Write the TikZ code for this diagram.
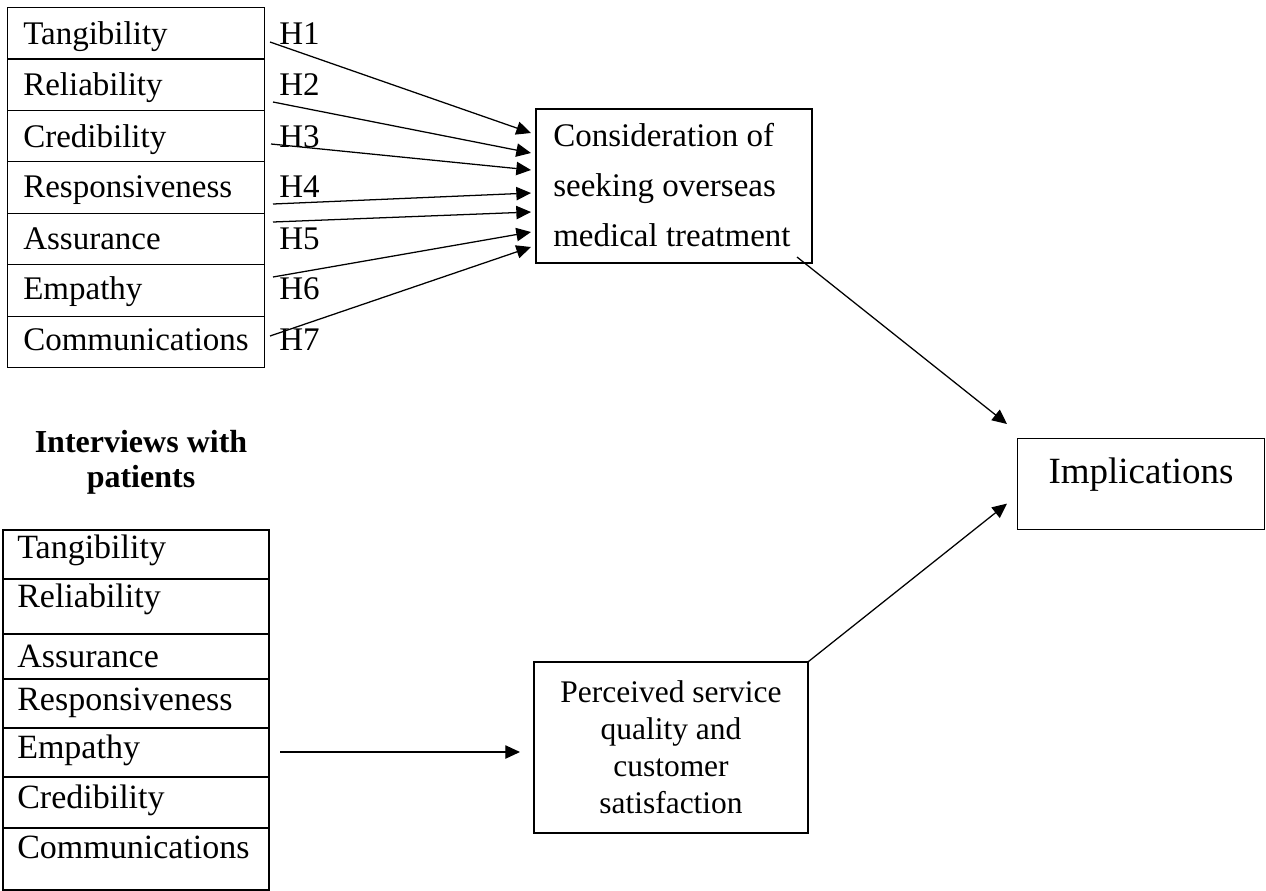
\documentclass[tikz,border=0pt]{standalone}
\usepackage{fontspec}
\setmainfont{Liberation Serif}
\usetikzlibrary{arrows.meta}
\begin{document}
\begin{tikzpicture}[x=0.75pt,y=-0.75pt,
  cellT/.style={draw, line width=0.9pt, inner sep=0pt, minimum width=192.75pt, minimum height=38.57pt, anchor=north west},
  cellB/.style={draw, line width=1.4pt, inner sep=0pt, minimum width=199.5pt, anchor=north west},
  txtT/.style={anchor=base west, inner sep=0pt, font=\fontsize{24.75}{30}\selectfont},
  txtB/.style={anchor=base west, inner sep=0pt, font=\fontsize{25.5}{30}\selectfont},
  hlab/.style={anchor=base west, inner sep=0pt, font=\fontsize{24.75}{30}\selectfont},
  arr/.style={line width=0.95pt, -{Triangle[length=11pt,width=10pt]}},
  boxstyle/.style={draw, line width=0.9pt, inner sep=0pt}
]
\useasboundingbox (0,0) rectangle (1266,890);

% top table
\foreach \i/\t/\b/\h in {1/Tangibility/44/H1, 2/Reliability/95/H2, 3/Credibility/147/H3, 4/Responsiveness/197/H4, 5/Assurance/249/H5, 6/Empathy/299/H6, 7/Communications/350/H7}{
  \node[cellT] (t\i) at (7,{7+(\i-1)*51.43}) {};
  \node[txtT] (tt\i) at (23,\b) {\t};
  \node[hlab] (h\i) at (279,\b) {\h};
}

% consideration box
\node[boxstyle, minimum width=207pt, minimum height=115.5pt] (cons) at (674,186) {};
\node[anchor=base west, inner sep=0pt, align=left,
      font=\fontsize{24.75}{37.5}\selectfont] (constxt) at (553,246)
  {Consideration of\\seeking overseas\\medical treatment};

% arrows to consideration
\coordinate (s1) at (270,42);  \coordinate (e1) at (531,133);
\coordinate (s2) at (273,102); \coordinate (e2) at (531,153);
\coordinate (s3) at (271,144); \coordinate (e3) at (531,170);
\coordinate (s4) at (273,204); \coordinate (e4) at (531,193);
\coordinate (s5) at (273,222); \coordinate (e5) at (531,212);
\coordinate (s6) at (273,277); \coordinate (e6) at (531,232);
\coordinate (s7) at (270,336); \coordinate (e7) at (531,247);
\foreach \i in {1,...,7}{ \draw[arr] (s\i) -- (e\i); }

% implications
\node[boxstyle, minimum width=185.25pt, minimum height=68.25pt, anchor=north west] (impl) at (1017,438) {};
\node[anchor=base, inner sep=0pt, font=\fontsize{27.75}{32}\selectfont] (impltxt) at (1141,483) {Implications};

\coordinate (c1) at (797,257);
\draw[arr] (c1) -- ([shift={(-10,-14)}]impl.north west);

% interviews heading
\node[align=center, inner sep=0pt, anchor=base, font=\bfseries\fontsize{24}{26.25}\selectfont] (intv) at (141,487) {Interviews with\\patients};

% bottom table
\node[cellB, minimum height=36.75pt] (b1) at (2,529) {};
\node[cellB, minimum height=41.25pt] (b2) at (2,578) {};
\node[cellB, minimum height=33.75pt] (b3) at (2,633) {};
\node[cellB, minimum height=36.75pt] (b4) at (2,678) {};
\node[cellB, minimum height=36.75pt] (b5) at (2,727) {};
\node[cellB, minimum height=38.25pt] (b6) at (2,776) {};
\node[cellB, minimum height=46.5pt] (b7) at (2,827) {};
\node[txtB] (bt1) at (17,558) {Tangibility};
\node[txtB] (bt2) at (17,607) {Reliability};
\node[txtB] (bt3) at (17,667) {Assurance};
\node[txtB] (bt4) at (17,710) {Responsiveness};
\node[txtB] (bt5) at (17,758) {Empathy};
\node[txtB] (bt6) at (17,808) {Credibility};
\node[txtB] (bt7) at (17,858) {Communications};

% perceived box
\node[boxstyle, minimum width=205.5pt, minimum height=128.25pt, align=center,
      font=\fontsize{23.6}{27.75}\selectfont] (perc) at (671,747.5)
  {Perceived service\\quality and\\customer\\satisfaction};

\coordinate (hs) at (280,752);
\coordinate (he) at (520,752);
\draw[arr] (hs) -- (he);
\draw[arr] (perc.north east) -- ([shift={(-10,19.5)}]impl.west);
\end{tikzpicture}
\end{document}
